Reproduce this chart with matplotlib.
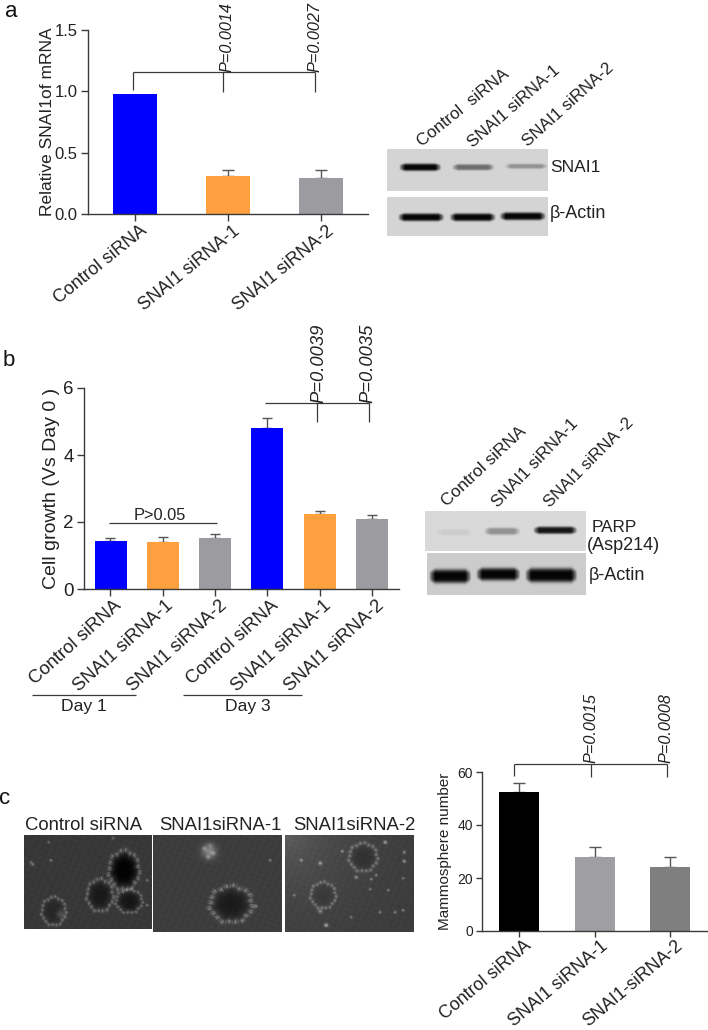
import numpy as np
import matplotlib
matplotlib.use("Agg")
import matplotlib.pyplot as plt
from matplotlib.transforms import ScaledTranslation

plt.rcParams['font.family'] = ['Liberation Sans', 'DejaVu Sans']

W, H = 708, 1030
INK = '#3a3a3a'

# ---- data
labels_a = ["Control siRNA", "SNAI1 siRNA-1", "SNAI1 siRNA-2"]
values_a = [0.98, 0.31, 0.29]
errors_a = [0.0, 0.05, 0.07]
colors_a = ["#0000ff", "#ffa040", "#9c9ca0"]

labels_b = ["Control siRNA", "SNAI1 siRNA-1", "SNAI1 siRNA-2"] * 2
values_b = [1.43, 1.41, 1.53, 4.81, 2.24, 2.10]
errors_b = [0.08, 0.13, 0.11, 0.29, 0.09, 0.10]
colors_b = colors_a * 2

labels_c = ["Control siRNA", "SNAI1 siRNA-1", "SNAI1-siRNA-2"]
values_c = [52.5, 28, 24.3]
errors_c = [3.3, 3.8, 3.7]
colors_c = ["#000000", "#9e9ea3", "#7f7f7f"]

fig = plt.figure(figsize=(W / 100, H / 100), dpi=100)


def px_axes(x0, y0, x1, y1, **kw):
    return fig.add_axes([x0 / W, 1 - y1 / H, (x1 - x0) / W, (y1 - y0) / H], **kw)


def bar_panel(box, centers, width, vals, errs, cols, labels, ylim, yticks, ylabel,
              fs, lfs, tfs, rot, lab_dx, lab_pad, ticklen, capw, ylab_pad):
    ax = px_axes(*box)
    ax.bar(centers, vals, width=width, color=cols, zorder=2)
    for c, v, e in zip(centers, vals, errs):
        if e > 0:
            ax.errorbar(c, v, yerr=[[0], [e]], color='#555555', capsize=capw, capthick=1.0,
                        elinewidth=1.0, zorder=1)
    ax.set_xlim(box[0], box[2])
    ax.set_ylim(*ylim)
    ax.set_yticks(yticks)
    ax.set_xticks(centers)
    ax.set_xticklabels(labels, rotation=rot, ha='right', rotation_mode='anchor',
                       fontsize=fs, color='#222222')
    ax.set_ylabel(ylabel, fontsize=lfs, labelpad=ylab_pad, color='#222222')
    ax.tick_params(axis='both', width=1.0, length=ticklen, color=INK)
    ax.tick_params(axis='x', pad=lab_pad)
    ax.tick_params(axis='y', labelsize=tfs, labelcolor='#222222', pad=2.5)
    off = ScaledTranslation(lab_dx / 100, 0, fig.dpi_scale_trans)
    for t in ax.get_xticklabels():
        t.set_transform(t.get_transform() + off)
    for s in ('top', 'right'):
        ax.spines[s].set_visible(False)
    for s in ('left', 'bottom'):
        ax.spines[s].set_linewidth(1.0)
        ax.spines[s].set_color(INK)
    return ax


ax_a = bar_panel((88, 30, 368, 214), [134.5, 227.5, 321], 44, values_a, errors_a, colors_a,
                 labels_a, (0, 1.5), [0, 0.5, 1.0, 1.5], "Relative SNAI1of mRNA",
                 13, 12.5, 12, 39, 5, 1.0, 5, 4.3, -0.5)
ax_a.set_yticklabels(["0.0", "0.5", "1.0", "1.5"])

ax_b = bar_panel((84, 388, 399, 589), [110.5, 162.5, 215.5, 267.5, 320, 372.5], 32, values_b, errors_b,
                 colors_b, labels_b, (0, 6), [0, 2, 4, 6], "Cell growth (Vs Day 0 )",
                 13.3, 14, 13.5, 42, 3, 0.5, 5, 3.6, 2)

ax_c = bar_panel((482, 772, 707, 931), [519, 595, 670], 40, values_c, errors_c, colors_c,
                 labels_c, (0, 60), [0, 20, 40, 60], "Mammosphere number",
                 12.9, 11, 10, 40, 5, 0.5, 4, 4.3, 4)

# ---- overlay in figure pixels
ov = fig.add_axes([0, 0, 1, 1], zorder=5)
ov.set_xlim(0, W)
ov.set_ylim(H, 0)
ov.axis('off')
ov.patch.set_alpha(0)


def lines(segs, lw=0.9, color=INK):
    for (x0, y0, x1, y1) in segs:
        ov.plot([x0, x1], [y0, y1], color=color, lw=lw, solid_capstyle='butt')


lines([(133, 72, 315, 72), (133, 72, 133, 90), (223, 72, 223, 92), (315, 72, 315, 92)])
lines([(265, 403, 369, 403), (317, 403, 317, 422), (369, 403, 369, 422)])
lines([(109, 523, 217, 523), (32, 695, 136, 695), (183, 695, 302, 695)])
lines([(514, 764, 667, 764), (514, 764, 514, 776), (591, 764, 591, 777), (667, 764, 667, 777)])


def ptext(x, y, s, fs):
    ov.text(x, y, s, rotation=90, style='italic', fontsize=fs, ha='center', va='bottom',
            color='#222222')


ptext(227, 72, "P=0.0014", 11.7)
ptext(315, 72, "P=0.0027", 11.7)
ptext(319, 403, "P=0.0039", 13.2)
ptext(368, 403, "P=0.0035", 13.2)
ptext(591, 763, "P=0.0015", 11.7)
ptext(666, 763, "P=0.0008", 11.7)

ov.text(160, 520, "P>0.05", fontsize=11.8, ha='center', va='baseline', color='#222222')
ov.text(84, 707, "Day 1", fontsize=12.6, ha='center', va='center', color='#222222')
ov.text(248, 707, "Day 3", fontsize=12.6, ha='center', va='center', color='#222222')

for x, y, s in [(11, 17, "a"), (9, 366, "b"), (5, 804, "c")]:
    ov.text(x, y, s, fontsize=16, ha='center', va='baseline', color='#111111')


# ---- western blots
def blot(box, bands, bg=0.80):
    x0, y0, x1, y1 = box
    xs, ys = np.meshgrid(np.arange(x0, x1, 0.5), np.arange(y0, y1, 0.5))
    dark = np.zeros_like(xs)
    for cx, cy, hw, hh, d in bands:
        fx = np.clip((hw - np.abs(xs - cx)) / 6.0, 0, 1) ** 0.7
        fy = np.exp(-((ys - cy) / (hh * (0.55 + 0.45 * fx))) ** 4)
        dark += d * fx * fy
    img = bg - np.clip(dark, 0, 1) * (bg - 0.02)
    ov.imshow(img, extent=(x0, x1, y1, y0), cmap='gray', vmin=0, vmax=1,
              aspect='auto', interpolation='bilinear', zorder=1)


blot((387, 149, 548, 191), [(420, 167, 21, 3.6, 1.0), (473, 167, 21, 3.0, 0.5), (526, 166, 21, 2.4, 0.32)], 0.83)
blot((387, 197, 548, 236), [(421, 217, 23, 3.8, 1.0), (472.5, 217, 23, 3.8, 1.0), (522.5, 216, 23, 3.8, 1.0)], 0.83)
blot((425, 511, 586, 551), [(454, 532, 18, 3.0, 0.06), (502, 531, 18, 3.5, 0.34), (555, 530, 22, 3.6, 0.92)], 0.85)
blot((427, 553, 586, 595), [(450, 576, 21, 6.8, 1.0), (498, 574, 22, 6.2, 1.0), (551, 575, 26, 7.0, 1.0)], 0.80)

for x, y, s, fs in [(550, 167, "SNAI1", 12.5), (550, 214, "β-Actin", 13),
                    (592, 527, "PARP", 12.3), (587, 546, "(Asp214)", 13), (589, 575, "β-Actin", 13)]:
    ov.text(x, y, s, fontsize=fs, ha='left', va='center', color='#222222')

for x, y, s, fs, rot in [(422, 147, "Control  siRNA", 12.3, 39), (473, 148, "SNAI1 siRNA-1", 12.2, 41),
                         (528, 147, "SNAI1 siRNA-2", 12.2, 42), (447, 507, "Control siRNA", 12.4, 43),
                         (498, 508, "SNAI1 siRNA-1", 12.2, 46), (550, 508, "SNAI1 siRNA -2", 12.1, 45)]:
    ov.text(x, y, s, fontsize=fs, rotation=rot, rotation_mode='anchor', ha='left', va='baseline',
            color='#222222')


# ---- micrographs (schematic rendering of the photographs)
def micro(box, spheres, spots, bg=0.25, glow=0.0):
    x0, y0, x1, y1 = box
    xs, ys = np.meshgrid(np.arange(x0, x1, 0.5), np.arange(y0, y1, 0.5))
    img = bg + glow * np.exp(-np.hypot(xs - x0, ys - y0) / 55)
    img = img + 0.006 * np.sin(xs * 0.9 + ys * 0.4) + 0.006 * np.sin(xs * 0.37 - ys * 1.1)
    for cx, cy, rx, ry, core in spheres:
        dx, dy = (xs - cx) / rx, (ys - cy) / ry
        d = np.hypot(dx, dy)
        a = np.arctan2(dy, dx)
        rr = 1 + 0.04 * np.sin(7 * a) + 0.03 * np.sin(13 * a + 1)
        tex = 1 + 0.25 * np.sin(xs * 1.7) * np.sin(ys * 1.9)
        img = img * (1 - core * np.exp(-(d / (0.82 * rr)) ** 4) * tex)
        sp = 0.45 + 0.45 * np.sin(31 * a) * np.sin(11 * a + 2)
        img = img + 0.36 * sp * np.exp(-((d - rr) / 0.12) ** 2)
    for sx, sy, sr, amp in spots:
        img = img + amp * np.exp(-((xs - sx) ** 2 + (ys - sy) ** 2) / sr ** 2)
    ov.imshow(np.clip(img, 0, 1), extent=(x0, x1, y1, y0), cmap='gray', vmin=0, vmax=1,
              aspect='auto', interpolation='bilinear', zorder=1)


micro((23.5, 835, 151, 929),
      [(123, 870, 15, 19.5, 1.0), (99, 895, 13, 16, 0.55), (128, 901, 13, 11.5, 0.6), (53, 911, 12, 14, 0.3)],
      [(32, 864, 1.5, 0.3), (50, 860, 1.2, 0.35), (146, 880, 1.2, 0.3), (146, 905, 1.2, 0.3), (48, 842, 1.2, 0.25),
       (112, 838, 1.5, 0.2), (60, 914, 4, 0.15), (30, 862, 1.2, 0.25)], 0.22)
micro((153, 835, 282, 932),
      [(231, 904, 21, 18, 0.55)],
      [(209, 851, 7, 0.3), (204, 848, 2, 0.2), (213, 853, 2, 0.2), (208, 857, 2, 0.2), (210, 845, 2, 0.15),
       (270, 860, 1.3, 0.3), (256, 906, 1.2, 0.3), (250, 905, 1, 0.2)], 0.24)
micro((285, 835, 414, 932),
      [(363, 857, 14, 14, 0.25), (323, 895, 12.5, 13, 0.15)],
      [(301, 860, 1.4, 0.35), (320, 863, 1.7, 0.4), (342, 851, 1.3, 0.35), (385, 842, 1.7, 0.4), (404, 852, 1.4, 0.35),
       (404, 861, 1.5, 0.4), (356, 877, 1.6, 0.35), (371, 879, 1.2, 0.35), (376, 875, 1.2, 0.35), (403, 878, 1.2, 0.3),
       (294, 895, 1.2, 0.3), (370, 889, 1.2, 0.3), (388, 890, 1.2, 0.3), (380, 912, 1.2, 0.35), (395, 912, 1.3, 0.35),
       (403, 910, 1.2, 0.35), (326, 925, 1.8, 0.45), (351, 917, 1.2, 0.3), (320, 911, 2, 0.3)], 0.23, 0.14)

for x, s in [(84, "Control siRNA"), (220, "SNAI1siRNA-1"), (354, "SNAI1siRNA-2")]:
    ov.text(x, 825, s, fontsize=13.3, ha='center', va='center', color='#222222')

ov.set_xlim(0, W)
ov.set_ylim(H, 0)
fig.savefig("out.png", dpi=100)
